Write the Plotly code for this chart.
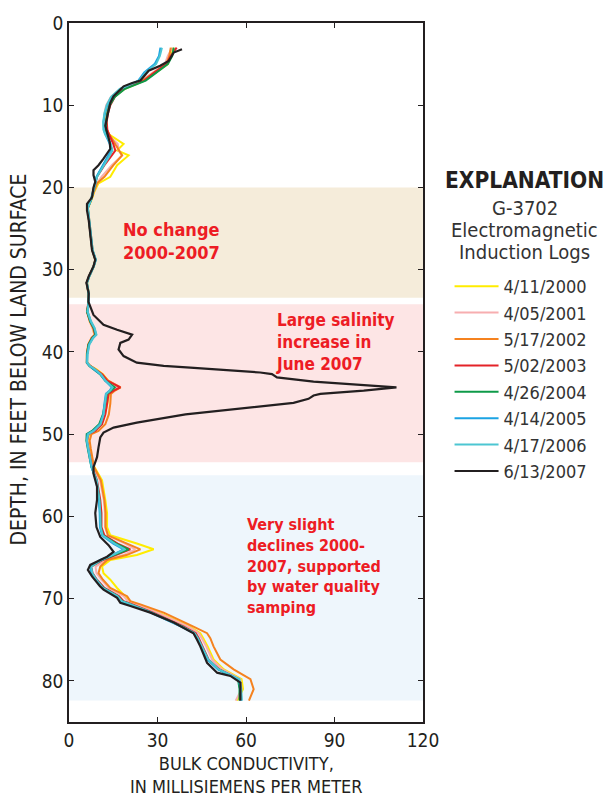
import plotly.graph_objects as go

# Depth grid (feet) shared by the 2000-2006 logs
depth = [3.0, 4.0, 5.0, 6.0, 7.0, 8.0, 9.0, 10.0, 11.0, 12.0,
         13.0, 13.5, 14.7, 15.5, 16.1, 17.3, 18.7, 19.5, 20.5, 21.5,
         22.5, 24.0, 26.0, 27.6, 28.8, 29.6, 30.8, 31.6, 32.9, 34.0,
         35.1, 36.3, 37.1, 37.9, 38.3, 39.1, 40.3, 41.3, 41.7, 42.1,
         42.7, 43.5, 44.3, 44.7, 45.1, 46.3, 47.6, 48.8, 49.6, 50.0,
         50.8, 51.8, 52.8, 54.0, 55.6, 58.0, 59.6, 61.3, 62.3, 63.3,
         64.0, 64.7, 65.3, 66.1, 66.9, 67.7, 68.7, 69.7, 70.3, 70.7,
         71.7, 73.4, 74.2, 74.8, 75.8, 77.4, 78.6, 79.8, 81.0, 82.4]

log_2000 = [35.5, 34.5, 33.5, 29.5, 25.5, 19.0, 15.0, 13.5, 12.8, 12.5,
            12.8, 13.4, 18.5, 16.3, 20.2, 16.3, 14.0, 10.0, 8.6, 7.6,
            6.4, 6.8, 7.3, 7.9, 8.9, 8.4, 6.8, 6.1, 6.7, 6.7,
            6.2, 7.0, 8.0, 8.6, 7.6, 6.5, 6.0, 6.2, 7.2, 9.2,
            11.5, 13.2, 16.8, 15.0, 13.6, 13.0, 12.2, 11.0, 8.6, 6.8,
            6.3, 6.9, 7.5, 8.6, 11.2, 12.3, 12.9, 12.9, 14.0, 23.0,
            28.7, 23.0, 14.0, 11.2, 11.7, 14.0, 16.3, 19.0, 20.5, 23.0,
            30.5, 41.0, 44.5, 45.5, 47.0, 49.0, 52.5, 58.5, 59.0, 57.0]

log_2001 = [35.0, 33.5, 32.5, 28.5, 24.5, 17.5, 14.2, 12.6, 12.0, 11.8,
            12.3, 13.0, 16.5, 16.8, 18.0, 14.5, 11.0, 9.5, 8.4, 7.5,
            6.3, 6.7, 7.2, 7.8, 8.9, 8.3, 6.7, 6.0, 6.6, 6.5,
            6.1, 7.0, 8.0, 8.7, 7.6, 6.5, 6.0, 6.0, 7.0, 8.8,
            11.0, 12.8, 16.5, 15.0, 13.3, 12.8, 12.0, 10.8, 8.5, 6.5,
            6.2, 6.8, 7.3, 8.3, 10.5, 11.8, 12.2, 12.2, 13.2, 19.0,
            22.5, 18.5, 12.5, 9.0, 9.3, 11.0, 13.5, 18.5, 20.0, 22.8,
            30.0, 40.5, 44.0, 45.0, 46.5, 48.5, 52.0, 58.0, 58.5, 56.5]

log_2002 = [34.5, 34.0, 33.0, 29.0, 25.0, 18.0, 14.8, 13.5, 12.9, 12.6,
            12.9, 13.6, 15.5, 17.0, 18.0, 15.0, 12.0, 9.5, 8.5, 7.6,
            6.4, 6.9, 7.4, 8.0, 9.0, 8.4, 6.9, 6.1, 6.7, 6.7,
            6.2, 7.2, 8.2, 8.8, 7.7, 6.6, 6.1, 6.1, 7.2, 9.0,
            11.3, 13.3, 17.5, 15.6, 14.2, 14.0, 13.5, 12.3, 10.0, 7.6,
            7.0, 7.4, 7.8, 8.5, 10.8, 12.0, 12.4, 12.4, 13.2, 19.5,
            24.2, 19.5, 13.0, 10.6, 10.0, 11.5, 14.0, 19.7, 20.8, 24.2,
            32.1, 42.2, 46.8, 47.9, 49.0, 51.3, 55.8, 61.5, 62.6, 61.0]

log_2003 = [36.5, 34.5, 33.0, 29.0, 25.5, 18.5, 15.5, 14.0, 13.2, 12.8,
            13.0, 13.5, 15.0, 15.7, 14.5, 12.0, 9.5, 9.0, 8.3, 7.5,
            6.3, 6.8, 7.3, 7.9, 9.0, 8.3, 6.8, 6.0, 6.6, 6.6,
            6.1, 7.2, 8.3, 8.9, 7.8, 6.6, 6.1, 6.1, 7.2, 8.9,
            11.2, 12.9, 17.4, 15.1, 13.4, 12.9, 12.3, 11.2, 8.9, 6.6,
            6.1, 6.6, 7.2, 7.8, 9.5, 10.6, 11.0, 11.0, 12.0, 16.5,
            20.8, 16.0, 11.5, 7.5, 8.0, 9.5, 12.0, 17.0, 18.5, 21.5,
            28.5, 39.0, 43.0, 44.0, 45.3, 47.3, 51.0, 57.5, 58.0, 58.0]

log_2004 = [35.5, 35.0, 33.5, 29.8, 26.0, 19.0, 15.5, 13.8, 13.0, 12.6,
            12.5, 12.9, 14.0, 14.6, 13.6, 11.6, 9.4, 8.9, 8.3, 7.5,
            6.3, 6.8, 7.3, 7.9, 9.0, 8.3, 6.8, 6.0, 6.6, 6.6,
            6.1, 7.2, 8.4, 9.0, 7.9, 6.6, 6.1, 6.0, 6.9, 8.4,
            10.5, 12.3, 15.5, 14.3, 12.8, 12.2, 11.5, 10.2, 7.8, 6.0,
            5.9, 6.4, 7.0, 7.6, 9.3, 10.3, 10.6, 10.7, 11.5, 16.0,
            20.2, 15.5, 11.0, 7.4, 7.8, 9.2, 11.6, 16.6, 18.0, 21.0,
            28.0, 38.5, 42.5, 43.6, 45.0, 47.0, 50.7, 57.3, 57.8, 57.8]

log_2005 = [31.0, 30.5, 29.0, 25.5, 23.5, 17.5, 14.5, 13.0, 12.2, 11.7,
            11.8, 12.3, 13.8, 14.3, 13.3, 11.4, 9.3, 8.8, 8.2, 7.4,
            6.4, 6.9, 7.4, 8.0, 9.1, 8.4, 6.9, 6.1, 6.7, 6.7,
            6.3, 7.4, 8.6, 9.2, 8.1, 6.8, 6.2, 6.1, 7.0, 8.6,
            10.6, 12.3, 14.5, 13.8, 12.5, 12.0, 11.6, 10.5, 8.2, 6.3,
            6.0, 6.5, 7.0, 7.6, 9.2, 10.1, 10.4, 10.5, 11.2, 15.0,
            18.5, 14.6, 10.6, 7.2, 7.6, 9.0, 11.3, 16.3, 17.7, 20.7,
            27.7, 38.0, 42.3, 43.4, 44.8, 46.9, 50.5, 57.5, 58.2, 58.4]

log_2006 = [31.5, 30.8, 29.5, 26.0, 23.8, 17.2, 14.2, 12.8, 12.0, 11.6,
            11.7, 12.2, 14.2, 14.7, 13.8, 11.7, 9.5, 9.0, 8.3, 7.5,
            6.4, 6.9, 7.4, 8.0, 9.1, 8.4, 6.9, 6.1, 6.7, 6.7,
            6.3, 7.5, 8.7, 9.3, 8.2, 6.9, 6.3, 6.2, 7.1, 8.8,
            10.8, 12.4, 14.8, 14.0, 12.6, 12.1, 11.7, 10.7, 8.4, 6.5,
            6.1, 6.6, 7.1, 7.7, 9.4, 10.3, 10.6, 10.7, 11.4, 15.5,
            19.0, 15.0, 11.0, 7.5, 7.9, 9.3, 11.5, 16.5, 17.9, 21.0,
            28.0, 38.3, 42.6, 43.7, 45.1, 47.2, 50.8, 57.8, 58.4, 58.6]

# June 2007 log, sampled more finely through the salinity spike
depth_2007 = [3.2, 3.6, 4.6, 5.2, 5.8, 6.7, 7.0, 7.3, 7.7, 8.3,
              8.9, 9.7, 10.5, 11.5, 12.5, 13.3, 14.5, 15.3, 15.9, 16.5,
              17.3, 17.9, 18.5, 19.3, 20.0, 21.2, 22.0, 22.8, 24.0, 26.0,
              27.6, 28.8, 29.6, 30.8, 31.6, 32.9, 33.9, 35.5, 36.7, 37.3,
              37.9, 38.5, 38.9, 39.7, 40.5, 41.3, 41.7, 41.9, 42.1, 42.5,
              42.7, 43.1, 43.6, 44.0, 44.3, 44.7, 45.1, 45.3, 45.7, 46.2,
              46.8, 47.6, 48.6, 49.2, 49.8, 50.4, 51.6, 52.8, 54.0, 54.8,
              56.4, 58.0, 59.6, 61.3, 62.5, 63.5, 64.3, 64.9, 65.3, 65.9,
              66.5, 67.3, 68.5, 68.9, 69.9, 70.5, 70.9, 71.7, 72.9, 73.8,
              74.2, 75.0, 75.8, 77.8, 79.0, 79.4, 80.2, 81.4, 82.4]
log_2007 = [38.3, 35.5, 33.8, 30.9, 27.0, 24.7, 24.2, 21.4, 18.5, 16.8,
            15.1, 14.0, 13.4, 12.9, 12.3, 12.9, 13.8, 14.0, 12.9, 11.7,
            10.0, 8.3, 8.3, 8.9, 8.3, 7.8, 6.1, 6.1, 6.7, 7.2,
            7.8, 8.9, 8.3, 6.7, 5.9, 6.7, 6.6, 8.3, 11.7, 16.3,
            21.4, 20.2, 17.4, 16.8, 18.5, 23.0, 32.1, 41.1, 49.0, 64.8,
            68.8, 70.5, 82.9, 99.9, 111.0, 99.9, 85.2, 82.9, 81.2, 76.1,
            60.3, 39.5, 23.0, 15.1, 11.7, 10.6, 10.0, 9.5, 8.3, 8.3,
            9.5, 9.5, 8.9, 9.3, 10.6, 13.4, 15.1, 12.9, 10.6, 7.2,
            6.4, 7.8, 10.5, 11.7, 16.3, 17.4, 20.8, 27.6, 35.5, 40.0,
            42.2, 43.4, 44.5, 46.8, 50.2, 54.7, 58.1, 58.1, 58.1]

series_names = ["4/11/2000", "4/05/2001", "5/17/2002", "5/02/2003",
                "4/26/2004", "4/14/2005", "4/17/2006", "6/13/2007"]
series_colors = ["#FFEC00", "#F7AEB0", "#F5821F", "#E42328",
                 "#0E9A48", "#1BA3E3", "#4CC6D2", "#231F20"]
series_x = [log_2000, log_2001, log_2002, log_2003, log_2004, log_2005, log_2006, log_2007]
series_y = [depth] * 7 + [depth_2007]

# Interpreted depth intervals (top, bottom, fill)
zones = [(20.0, 33.4, "#F5ECDA"), (34.2, 53.4, "#FDE5E5"), (55.0, 82.4, "#EEF6FC")]

FONT = "Liberation Sans Narrow, DejaVu Sans Condensed, Roboto, sans-serif"
INK = "#231F20"
GREY = "#333333"
RED = "#ED1C24"

fig = go.Figure()
for name, color, xs, ys in zip(series_names, series_colors, series_x, series_y):
    fig.add_trace(go.Scatter(x=xs, y=ys, mode="lines", name=name,
                             line=dict(color=color, width=2.2 if name == "6/13/2007" else 2)))

for top, bottom, fill in zones:
    fig.add_shape(type="rect", xref="x", yref="y", x0=0, x1=120, y0=top, y1=bottom,
                  fillcolor=fill, line_width=0, layer="below")

# Zone notes: (x, depth, text, size)
notes = [
    (17.5, 26.5, "No change<br>2000-2007", 18),
    (69.5, 38.8, "Large salinity<br>increase in<br>June 2007", 17),
    (59.5, 66.0, "Very slight<br>declines 2000-<br>2007, supported<br>by water quality<br>samping", 16),
]
for nx, ny, txt, sz in notes:
    fig.add_annotation(x=nx, y=ny, xref="x", yref="y", text="<b>" + txt + "</b>",
                       showarrow=False, xanchor="left", yanchor="middle", align="left",
                       font=dict(family=FONT, size=sz, color=RED))

header = [("<b>EXPLANATION</b>", 22.5, INK, 0.775), ("G-3702", 20, GREY, 0.735),
          ("Electromagnetic", 20, GREY, 0.704), ("Induction Logs", 20, GREY, 0.673)]
for txt, size, col, yy in header:
    fig.add_annotation(x=1.288, y=yy, xref="paper", yref="paper", text=txt, showarrow=False,
                       xanchor="center", yanchor="middle", font=dict(family=FONT, size=size, color=col))

# Axis titles
fig.add_annotation(x=-0.1412, y=0.5185, xref="paper", yref="paper", textangle=-90,
                   text="DEPTH, IN FEET BELOW LAND SURFACE", showarrow=False,
                   xanchor="center", yanchor="middle", font=dict(family=FONT, size=21, color=INK))
fig.add_annotation(x=0.5, y=-0.0755, xref="paper", yref="paper",
                   text="BULK CONDUCTIVITY,<br>IN MILLISIEMENS PER METER", showarrow=False,
                   xanchor="center", yanchor="middle", font=dict(family=FONT, size=18, color=INK))

fig.update_layout(
    width=607, height=796,
    margin=dict(l=69, r=184, t=20, b=74),
    plot_bgcolor="white", paper_bgcolor="white",
    font=dict(family=FONT, color=INK, size=16),
    showlegend=True,
    legend=dict(x=1.075, y=0.6495, xanchor="left", yanchor="top",
                font=dict(family=FONT, size=18, color=GREY),
                itemwidth=44, bgcolor="rgba(0,0,0,0)"),
)
fig.update_xaxes(range=[0, 120], tickvals=[0, 30, 60, 90, 120], ticks="inside", ticklen=5,
                 tickcolor=INK, showline=True, linecolor=INK, linewidth=1.5, mirror="ticks",
                 showgrid=False, zeroline=False, tickfont=dict(size=19))
fig.update_yaxes(range=[85, 0], tickvals=list(range(0, 90, 10)), ticks="inside", ticklen=5,
                 tickcolor=INK, showline=True, linecolor=INK, linewidth=1.5, mirror="ticks",
                 showgrid=False, zeroline=False, tickfont=dict(size=19))

fig.write_html("out.html")
